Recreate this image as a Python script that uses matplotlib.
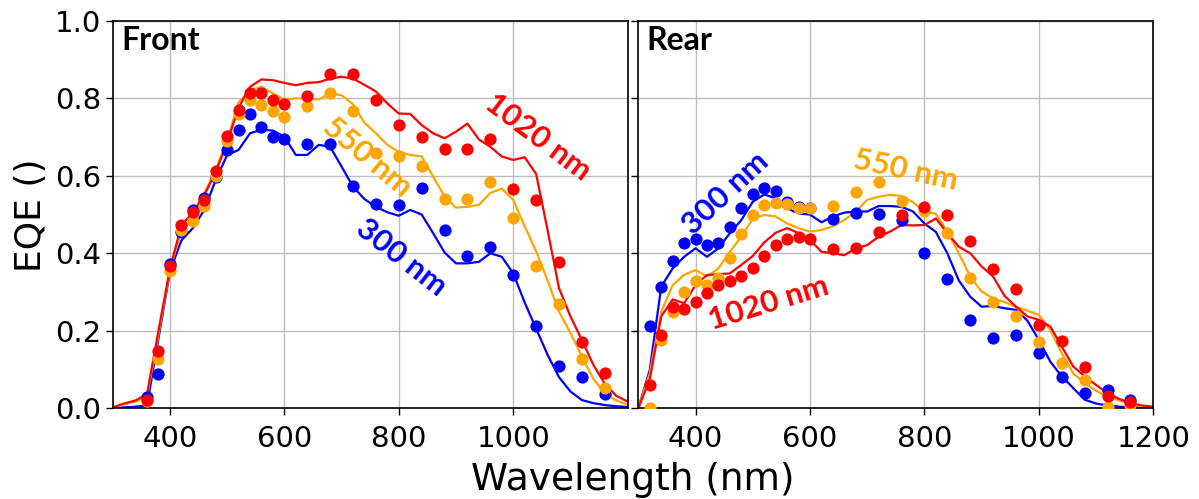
import numpy as np
import matplotlib
matplotlib.use("Agg")
import matplotlib.pyplot as plt

# ---- measured EQE (dots) ----
front_x = [360, 380, 400, 420, 440, 460, 480, 500, 520, 540, 560, 580, 600,
           640, 680, 720, 760, 800, 840, 880, 920, 960, 1000, 1040, 1080, 1120, 1160]
front_300 = [0.028, 0.089, 0.372, 0.455, 0.512, 0.542, 0.596, 0.668, 0.718, 0.760, 0.727, 0.701, 0.694,
             0.682, 0.681, 0.574, 0.527, 0.526, 0.569, 0.460, 0.393, 0.415, 0.343, 0.211, 0.109, 0.080, 0.037]
front_550 = [0.018, 0.126, 0.355, 0.459, 0.483, 0.523, 0.600, 0.690, 0.760, 0.796, 0.783, 0.768, 0.753,
             0.780, 0.815, 0.767, 0.658, 0.652, 0.625, 0.541, 0.541, 0.585, 0.490, 0.368, 0.268, 0.127, 0.052]
front_1020 = [0.022, 0.148, 0.366, 0.473, 0.506, 0.538, 0.612, 0.704, 0.770, 0.813, 0.815, 0.797, 0.785,
              0.806, 0.864, 0.864, 0.796, 0.731, 0.701, 0.670, 0.669, 0.694, 0.567, 0.538, 0.377, 0.170, 0.092]

rear_x = [320, 340, 360, 380, 400, 420, 440, 460, 480, 500, 520, 540, 560, 580, 600,
          640, 680, 720, 760, 800, 840, 880, 920, 960, 1000, 1040, 1080, 1120, 1160]
rear_300 = [0.211, 0.312, 0.381, 0.426, 0.436, 0.421, 0.426, 0.467, 0.518, 0.553, 0.569, 0.562, 0.532, 0.520, 0.518,
            0.489, 0.503, 0.501, 0.486, 0.400, 0.333, 0.228, 0.181, 0.188, 0.142, 0.080, 0.039, 0.047, 0.022]
rear_550 = [0.000, 0.176, 0.249, 0.299, 0.329, 0.318, 0.335, 0.387, 0.449, 0.498, 0.525, 0.529, 0.527, 0.518, 0.516,
            0.522, 0.557, 0.583, 0.536, 0.510, 0.452, 0.337, 0.273, 0.237, 0.170, 0.116, 0.073, 0.004, 0.008]
rear_1020 = [0.060, 0.189, 0.261, 0.255, 0.274, 0.298, 0.317, 0.329, 0.342, 0.361, 0.393, 0.421, 0.436, 0.441, 0.436,
             0.411, 0.413, 0.456, 0.499, 0.520, 0.499, 0.433, 0.359, 0.308, 0.215, 0.174, 0.106, 0.032, 0.017]

# ---- simulated EQE (lines), 20 nm grid from 300 to 1200 nm ----
sim_x = list(range(300, 1201, 20))
sim_front_300 = [0.000, 0.002, 0.004, 0.007, 0.180, 0.353, 0.433, 0.465, 0.512, 0.589, 0.654, 0.667, 0.710,
                 0.719, 0.717, 0.701, 0.654, 0.654, 0.680, 0.675, 0.624, 0.572, 0.540, 0.520, 0.506, 0.497,
                 0.512, 0.500, 0.452, 0.402, 0.374, 0.374, 0.378, 0.400, 0.391, 0.348, 0.273, 0.205, 0.138,
                 0.080, 0.043, 0.021, 0.013, 0.008, 0.005, 0.003]
sim_front_550 = [0.002, 0.010, 0.017, 0.030, 0.190, 0.357, 0.460, 0.486, 0.555, 0.615, 0.692, 0.790, 0.821,
                 0.830, 0.813, 0.797, 0.800, 0.800, 0.797, 0.813, 0.808, 0.785, 0.737, 0.710, 0.680, 0.662,
                 0.654, 0.650, 0.598, 0.547, 0.518, 0.520, 0.525, 0.556, 0.567, 0.538, 0.470, 0.405, 0.330,
                 0.249, 0.194, 0.133, 0.076, 0.037, 0.020, 0.009]
sim_front_1020 = [0.002, 0.012, 0.020, 0.037, 0.200, 0.360, 0.472, 0.506, 0.550, 0.610, 0.686, 0.776, 0.830,
                  0.849, 0.847, 0.840, 0.834, 0.840, 0.842, 0.851, 0.856, 0.851, 0.835, 0.818, 0.787, 0.761,
                  0.760, 0.731, 0.710, 0.697, 0.714, 0.735, 0.694, 0.675, 0.650, 0.641, 0.648, 0.605, 0.460,
                  0.310, 0.237, 0.176, 0.112, 0.063, 0.032, 0.017]

sim_rear_300 = [0.000, 0.099, 0.314, 0.361, 0.391, 0.413, 0.391, 0.413, 0.452, 0.486, 0.533, 0.552, 0.542,
                0.516, 0.503, 0.500, 0.480, 0.495, 0.505, 0.508, 0.508, 0.522, 0.522, 0.520, 0.508, 0.477,
                0.455, 0.400, 0.330, 0.288, 0.262, 0.264, 0.258, 0.254, 0.226, 0.176, 0.120, 0.082, 0.052,
                0.022, 0.012, 0.007, 0.004, 0.002, 0.001, 0.000]
sim_rear_550 = [0.000, 0.090, 0.249, 0.318, 0.344, 0.357, 0.340, 0.361, 0.404, 0.443, 0.489, 0.499, 0.495,
                0.477, 0.465, 0.456, 0.460, 0.470, 0.486, 0.508, 0.538, 0.546, 0.551, 0.548, 0.532, 0.508,
                0.502, 0.456, 0.400, 0.340, 0.301, 0.284, 0.274, 0.262, 0.252, 0.241, 0.202, 0.142, 0.090,
                0.065, 0.045, 0.030, 0.020, 0.011, 0.005, 0.002]
sim_rear_1020 = [0.000, 0.075, 0.237, 0.281, 0.271, 0.318, 0.344, 0.346, 0.348, 0.370, 0.393, 0.428, 0.453,
                 0.465, 0.452, 0.435, 0.404, 0.400, 0.395, 0.413, 0.421, 0.443, 0.456, 0.473, 0.472, 0.473,
                 0.490, 0.452, 0.417, 0.400, 0.366, 0.340, 0.290, 0.262, 0.237, 0.228, 0.211, 0.159, 0.108,
                 0.082, 0.060, 0.039, 0.024, 0.013, 0.007, 0.004]

colors = {"300": "blue", "550": "orange", "1020": "red"}

fig = plt.figure(figsize=(11.99, 4.99), dpi=100)
ax_f = fig.add_axes([0.094, 0.182, 0.4295, 0.776])
ax_r = fig.add_axes([0.5324, 0.182, 0.4295, 0.776])

label_font = dict(family=["Lato", "DejaVu Sans"], fontweight="bold", fontsize=22.5)
panel_font = dict(family=["Lato", "DejaVu Sans"], fontweight="bold", fontsize=23)

def draw_panel(ax, mx, meas, sim):
    for key, ys in sim:
        ax.plot(sim_x, ys, color=colors[key], lw=1.6, zorder=2)
    for key, ys in meas:
        ax.plot(mx, ys, "o", color=colors[key], ms=8.8, mec="none", zorder=3)
    ax.set_xlim(300, 1200)
    ax.set_ylim(0, 1.0)
    ax.set_yticks([0, 0.2, 0.4, 0.6, 0.8, 1.0])
    ax.grid(True, color="#bdbdbd", lw=1.0)
    ax.set_axisbelow(True)
    ax.tick_params(labelsize=21, length=5, width=1)
    ax.tick_params(axis="x", pad=7)
    for s in ax.spines.values():
        s.set_linewidth(1.2)

draw_panel(ax_f, front_x,
           [("300", front_300), ("550", front_550), ("1020", front_1020)],
           [("300", sim_front_300), ("550", sim_front_550), ("1020", sim_front_1020)])
draw_panel(ax_r, rear_x,
           [("300", rear_300), ("550", rear_550), ("1020", rear_1020)],
           [("300", sim_rear_300), ("550", sim_rear_550), ("1020", sim_rear_1020)])

ax_f.set_xticks([400, 600, 800, 1000])
ax_r.set_xticks([400, 600, 800, 1000, 1200])
ax_f.set_yticklabels(["0.0", "0.2", "0.4", "0.6", "0.8", "1.0"])
ax_r.tick_params(labelleft=False)

ax_f.text(0.016, 0.925, "Front", transform=ax_f.transAxes, ha="left", va="baseline",
          **panel_font)
ax_r.text(0.016, 0.925, "Rear", transform=ax_r.transAxes, ha="left", va="baseline",
          **panel_font)

# curve labels
ax_f.text(1044, 0.70, "1020 nm", color="red", rotation=-37, ha="center", va="center",
          rotation_mode="anchor", **label_font)
ax_f.text(745, 0.649, "550 nm", color="orange", rotation=-40, ha="center", va="center",
          rotation_mode="anchor", **label_font)
ax_f.text(804, 0.388, "300 nm", color="blue", rotation=-38, ha="center", va="center",
          rotation_mode="anchor", **label_font)
ax_r.text(452, 0.556, "300 nm", color="blue", rotation=43, ha="center", va="center",
          rotation_mode="anchor", **label_font)
ax_r.text(768, 0.615, "550 nm", color="orange", rotation=-12, ha="center", va="center",
          rotation_mode="anchor", **label_font)
ax_r.text(527, 0.272, "1020 nm", color="red", rotation=17, ha="center", va="center",
          rotation_mode="anchor", **label_font)

fig.text(0.528, 0.002, "Wavelength (nm)", ha="center", va="bottom", fontsize=27)
fig.text(0.026, 0.569, "EQE ()", rotation=90, ha="center", va="center", fontsize=26)

fig.savefig("out.png", dpi=100)
